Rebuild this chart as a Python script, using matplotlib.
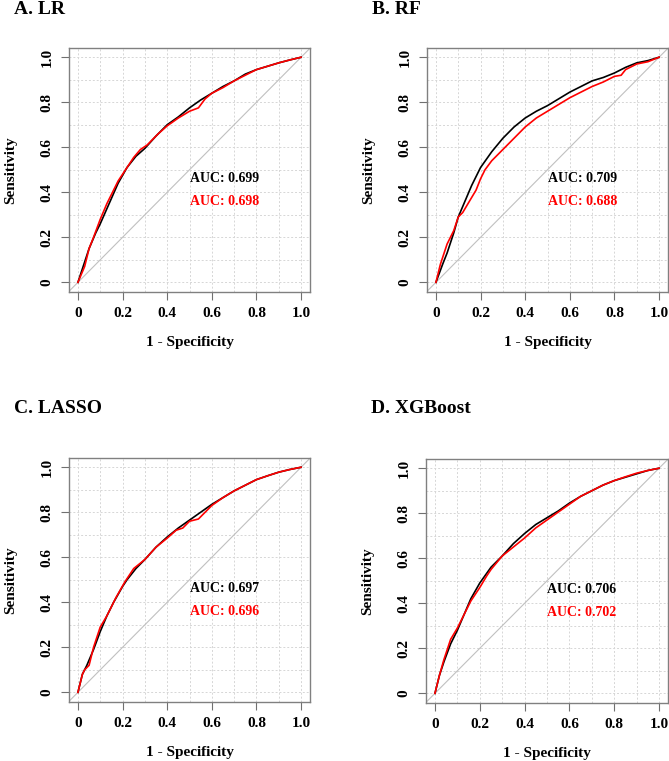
import numpy as np
import matplotlib
matplotlib.use("Agg")
import matplotlib.pyplot as plt
from matplotlib.ticker import MultipleLocator, FixedLocator

plt.rcParams['font.family'] = ['Liberation Serif', 'DejaVu Serif']
plt.rcParams['font.weight'] = 'bold'

# ROC curves (1 - specificity, sensitivity)
titles = ['A. LR', 'B. RF', 'C. LASSO', 'D. XGBoost']
auc_black = ['0.699', '0.709', '0.697', '0.706']
auc_red = ['0.698', '0.688', '0.696', '0.702']

fpr_a_k = [0, 0.02, 0.05, 0.08, 0.10, 0.14, 0.18, 0.22, 0.26, 0.30, 0.35, 0.40, 0.45, 0.50, 0.55, 0.60, 0.65, 0.70, 0.75, 0.80, 0.85, 0.90, 0.95, 1.0]
tpr_a_k = [0, 0.06, 0.15, 0.22, 0.26, 0.35, 0.44, 0.51, 0.56, 0.595, 0.65, 0.70, 0.735, 0.775, 0.81, 0.84, 0.87, 0.895, 0.925, 0.945, 0.96, 0.975, 0.988, 1.0]
fpr_a_r = [0, 0.03, 0.05, 0.07, 0.10, 0.13, 0.18, 0.22, 0.25, 0.28, 0.31, 0.36, 0.40, 0.45, 0.50, 0.54, 0.57, 0.60, 0.65, 0.70, 0.75, 0.80, 0.85, 0.90, 0.95, 1.0]
tpr_a_r = [0, 0.07, 0.15, 0.20, 0.28, 0.35, 0.45, 0.51, 0.555, 0.59, 0.61, 0.66, 0.695, 0.73, 0.76, 0.775, 0.815, 0.84, 0.865, 0.895, 0.92, 0.945, 0.96, 0.975, 0.988, 1.0]

fpr_b_k = [0, 0.03, 0.05, 0.08, 0.10, 0.13, 0.16, 0.20, 0.25, 0.30, 0.35, 0.40, 0.45, 0.50, 0.55, 0.60, 0.65, 0.70, 0.75, 0.80, 0.85, 0.90, 0.95, 1.0]
tpr_b_k = [0, 0.08, 0.13, 0.22, 0.29, 0.36, 0.43, 0.51, 0.58, 0.64, 0.69, 0.73, 0.76, 0.785, 0.815, 0.845, 0.87, 0.895, 0.91, 0.93, 0.955, 0.975, 0.985, 1.0]
fpr_b_r = [0, 0.02, 0.05, 0.08, 0.10, 0.12, 0.15, 0.18, 0.20, 0.22, 0.25, 0.30, 0.35, 0.40, 0.45, 0.50, 0.55, 0.60, 0.65, 0.70, 0.75, 0.80, 0.83, 0.85, 0.90, 0.95, 1.0]
tpr_b_r = [0, 0.08, 0.17, 0.23, 0.29, 0.31, 0.36, 0.41, 0.46, 0.50, 0.54, 0.59, 0.64, 0.69, 0.73, 0.76, 0.79, 0.82, 0.845, 0.87, 0.89, 0.915, 0.92, 0.945, 0.97, 0.98, 1.0]

fpr_c_k = [0, 0.02, 0.04, 0.07, 0.10, 0.13, 0.16, 0.20, 0.22, 0.26, 0.30, 0.35, 0.40, 0.45, 0.50, 0.55, 0.60, 0.65, 0.70, 0.75, 0.80, 0.85, 0.90, 0.95, 1.0]
tpr_c_k = [0, 0.08, 0.12, 0.19, 0.27, 0.34, 0.40, 0.47, 0.50, 0.55, 0.59, 0.645, 0.69, 0.73, 0.765, 0.80, 0.835, 0.865, 0.895, 0.92, 0.945, 0.962, 0.978, 0.99, 1.0]
fpr_c_r = [0, 0.02, 0.03, 0.05, 0.07, 0.10, 0.13, 0.17, 0.21, 0.25, 0.30, 0.35, 0.40, 0.44, 0.47, 0.50, 0.54, 0.57, 0.60, 0.65, 0.70, 0.75, 0.80, 0.85, 0.90, 0.95, 1.0]
tpr_c_r = [0, 0.08, 0.10, 0.12, 0.20, 0.29, 0.34, 0.42, 0.49, 0.55, 0.59, 0.645, 0.685, 0.72, 0.73, 0.76, 0.77, 0.80, 0.83, 0.865, 0.895, 0.92, 0.945, 0.962, 0.978, 0.99, 1.0]

fpr_d_k = [0, 0.02, 0.04, 0.07, 0.10, 0.13, 0.16, 0.20, 0.25, 0.30, 0.35, 0.40, 0.45, 0.50, 0.55, 0.60, 0.65, 0.70, 0.75, 0.80, 0.85, 0.90, 0.95, 1.0]
tpr_d_k = [0, 0.08, 0.14, 0.22, 0.28, 0.35, 0.42, 0.49, 0.56, 0.61, 0.665, 0.71, 0.75, 0.78, 0.81, 0.845, 0.875, 0.90, 0.925, 0.945, 0.96, 0.975, 0.99, 1.0]
fpr_d_r = [0, 0.02, 0.04, 0.07, 0.10, 0.13, 0.16, 0.20, 0.23, 0.25, 0.30, 0.35, 0.40, 0.45, 0.50, 0.55, 0.60, 0.65, 0.70, 0.75, 0.80, 0.85, 0.90, 0.95, 1.0]
tpr_d_r = [0, 0.08, 0.15, 0.24, 0.29, 0.35, 0.41, 0.47, 0.52, 0.55, 0.61, 0.65, 0.69, 0.735, 0.77, 0.805, 0.84, 0.875, 0.90, 0.925, 0.945, 0.962, 0.978, 0.99, 1.0]

curves = [
    (fpr_a_k, tpr_a_k, fpr_a_r, tpr_a_r),
    (fpr_b_k, tpr_b_k, fpr_b_r, tpr_b_r),
    (fpr_c_k, tpr_c_k, fpr_c_r, tpr_c_r),
    (fpr_d_k, tpr_d_k, fpr_d_r, tpr_d_r),
]

W, H = 669, 761
fig = plt.figure(figsize=(W / 100, H / 100), dpi=100)

# axes boxes in pixels: left, top, right, bottom
boxes = [(69, 48, 310, 292), (427, 48, 668, 292), (69, 458, 310, 702), (426, 459, 668, 703)]
title_pos = [(14, 10), (372, 10), (14, 409), (371, 409)]

for i, (l, t, r, b) in enumerate(boxes):
    ax = fig.add_axes([l / W, 1 - b / H, (r - l) / W, (b - t) / H])
    ax.set_xlim(-0.04, 1.04)
    ax.set_ylim(-0.043, 1.041)

    ax.xaxis.set_major_locator(FixedLocator([0, 0.2, 0.4, 0.6, 0.8, 1.0]))
    ax.yaxis.set_major_locator(FixedLocator([0, 0.2, 0.4, 0.6, 0.8, 1.0]))
    ax.xaxis.set_minor_locator(MultipleLocator(0.1))
    ax.yaxis.set_minor_locator(MultipleLocator(0.1))
    ax.set_xticklabels(['0', '0.2', '0.4', '0.6', '0.8', '1.0'])
    ax.set_yticklabels(['0', '0.2', '0.4', '0.6', '0.8', '1.0'], rotation=90, va='center')
    ax.tick_params(which='major', length=6, width=0.8, color='#707070', pad=5, labelsize=11)
    ax.tick_params(which='minor', length=0)
    for lab in ax.get_xticklabels() + ax.get_yticklabels():
        lab.set_fontweight('bold')

    ax.grid(True, which='both', color='#d6d6d6', linestyle=(0, (2, 2)), linewidth=0.7)
    ax.set_axisbelow(True)
    for sp in ax.spines.values():
        sp.set_color('#808080')
        sp.set_linewidth(1.0)

    ax.axline((0, 0), (1, 1), color='#c0c0c0', linewidth=0.8, zorder=2)

    fk, tk, fr, tr = curves[i]
    ax.plot(fk, tk, color='black', linewidth=1.2, zorder=3)
    ax.plot(fr, tr, color='red', linewidth=1.2, zorder=4)

    ax.text(0.5, 0.46, 'AUC: ' + auc_black[i], color='black', fontsize=10,
            fontweight='bold', ha='left', va='center')
    ax.text(0.5, 0.36, 'AUC: ' + auc_red[i], color='red', fontsize=10,
            fontweight='bold', ha='left', va='center')

    ax.set_xlabel('1 - Specificity', fontsize=11, fontweight='bold', labelpad=11)
    ax.set_ylabel('Sensitivity', fontsize=11, fontweight='bold', labelpad=17)

    tx, ty = title_pos[i]
    fig.text(tx / W, 1 - ty / H, titles[i], fontsize=14, fontweight='bold',
             ha='left', va='center')

fig.savefig('out.png', dpi=100)
